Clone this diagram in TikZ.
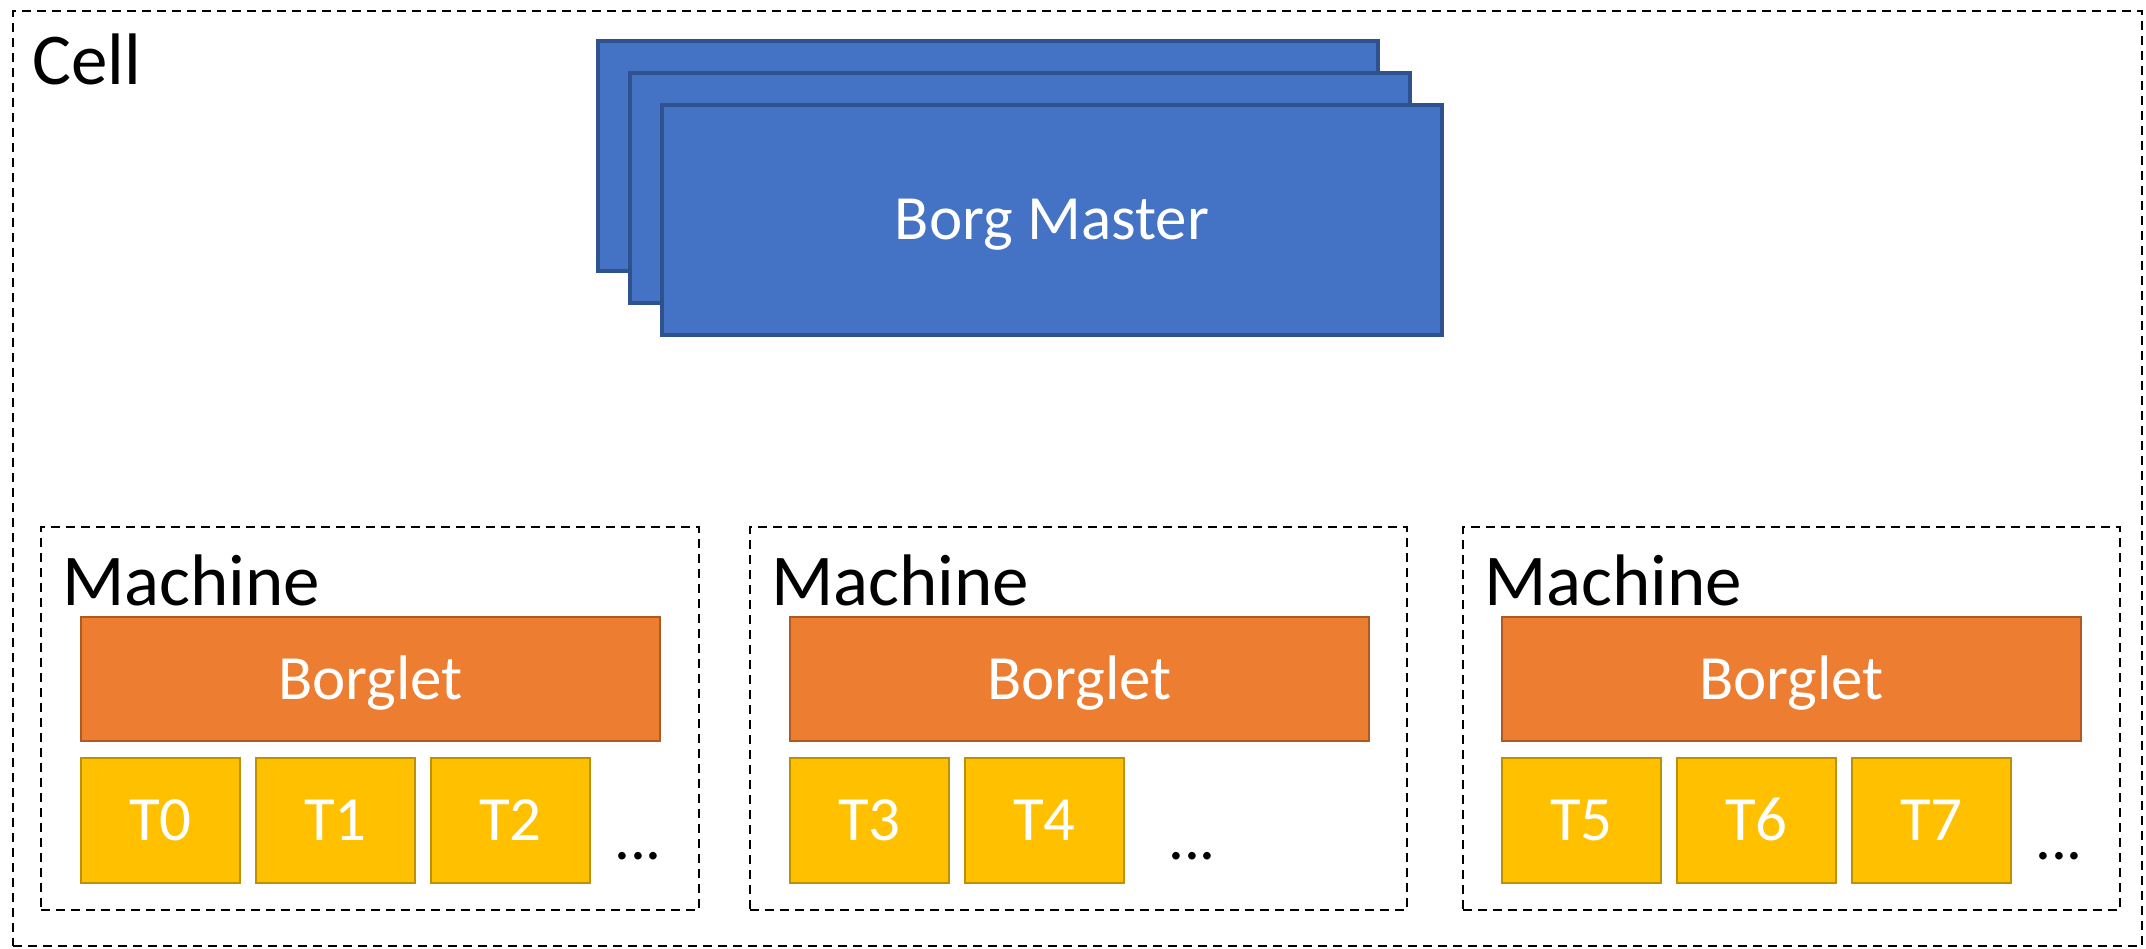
\documentclass[tikz,border=0pt]{standalone}
\usepackage{fontspec}
\setmainfont{Carlito}
\definecolor{mblue}{HTML}{4472C4}
\definecolor{mbluedk}{HTML}{2F528F}
\definecolor{morange}{HTML}{ED7D31}
\definecolor{morangedk}{HTML}{AE5A21}
\definecolor{myellow}{HTML}{FFC000}
\definecolor{myellowdk}{HTML}{BF9000}
\tikzset{
  dashbox/.style={draw=black, line width=2pt, dash pattern=on 9pt off 6pt, anchor=north west, inner sep=0pt, outer sep=0pt},
  big/.style={font=\fontsize{73}{80}\selectfont, text=black, inner sep=0pt, anchor=base west},
  capc/.style={text height=40pt, text depth=0pt, inner sep=0pt, outer sep=0pt, text=white, font=\fontsize{63}{70}\selectfont},
  master/.style={capc, draw=mbluedk, fill=mblue, line width=4pt, anchor=north west, minimum width=780pt, minimum height=230pt},
  borglet/.style={capc, draw=morangedk, fill=morange, line width=2.5pt, anchor=north west, minimum width=579pt, minimum height=124pt},
  task/.style={capc, draw=myellowdk, fill=myellow, line width=2.5pt, anchor=north west, minimum width=159pt, minimum height=125pt},
  dots/.style={font=\fontsize{63}{70}\selectfont, text=black, inner sep=0pt, anchor=base},
}
\begin{document}
\begin{tikzpicture}[x=1pt, y=-1pt]
\useasboundingbox (0,0) rectangle (2146,949);
% cell
\node[dashbox, minimum width=2129pt, minimum height=935pt] (cell) at (13,11) {};
\node[big] (celllbl) at (32,85) {Cell};
% borg master stack
\node[master] (mback) at (598,41) {};
\node[master] (mmid) at (630,73) {};
\node[master] (mfront) at (662,105) {Borg Master};
% machine 1
\node[dashbox, minimum width=658pt, minimum height=383pt] (mach1) at (41,527) {};
\node[big] (mach1lbl) at (62,605) {Machine};
\node[borglet] (bl1) at (81,617) {Borglet};
\node[task] (t0) at (81,758) {T0};
\node[task] (t1) at (256,758) {T1};
\node[task] (t2) at (431,758) {T2};
\node[dots] (d1) at (638,859) {...};
% machine 2
\node[dashbox, minimum width=657pt, minimum height=383pt] (mach2) at (750,527) {};
\node[big] (mach2lbl) at (771,605) {Machine};
\node[borglet] (bl2) at (790,617) {Borglet};
\node[task] (t3) at (790,758) {T3};
\node[task] (t4) at (965,758) {T4};
\node[dots] (d2) at (1192,859) {...};
% machine 3
\node[dashbox, minimum width=657pt, minimum height=383pt] (mach3) at (1463,527) {};
\node[big] (mach3lbl) at (1484,605) {Machine};
\node[borglet] (bl3) at (1502,617) {Borglet};
\node[task] (t5) at (1502,758) {T5};
\node[task] (t6) at (1677,758) {T6};
\node[task] (t7) at (1852,758) {T7};
\node[dots] (d3) at (2059,859) {...};
\end{tikzpicture}
\end{document}
